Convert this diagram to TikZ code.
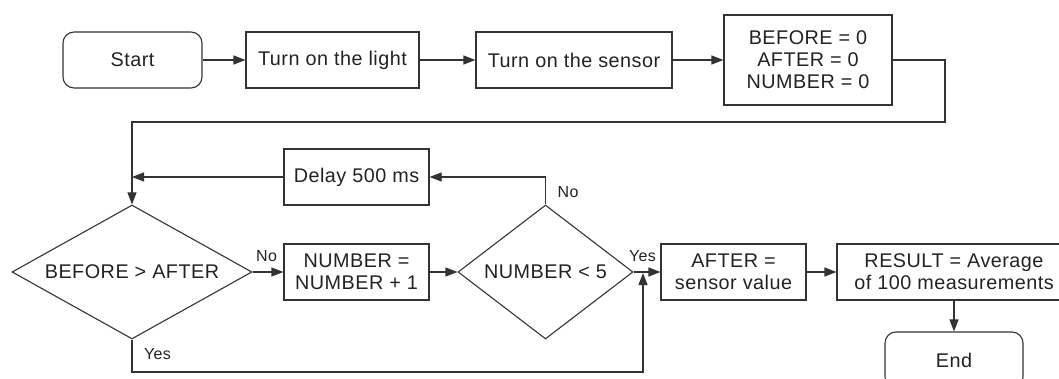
\documentclass[tikz,border=0pt]{standalone}
\usepackage{fontspec}
\setmainfont{Liberation Sans}[LetterSpace=2.5]
\usetikzlibrary{shapes.geometric,arrows.meta}
\definecolor{ink}{HTML}{222222}
\definecolor{lin}{HTML}{333333}
\begin{document}
\begin{tikzpicture}[x=1pt,y=-1pt,
  every node/.style={text=ink},
  boxbase/.style={draw=lin,line width=1.1pt,inner sep=0pt,align=center,
    font=\fontsize{19.8}{22}\selectfont},
  procbox/.style={boxbase,rectangle,minimum height=56pt},
  termbox/.style={boxbase,rectangle,rounded corners=11pt,minimum height=56pt},
  decbox/.style={boxbase,diamond,minimum height=134pt,inner sep=0pt},
  arr/.style={draw=lin,line width=1.1pt,-{Triangle[length=12pt,width=9pt]}},
  lbl/.style={font=\fontsize{16}{18}\selectfont,inner sep=0pt}]
\useasboundingbox (0,0) rectangle (1059,379);
\clip (0,0) rectangle (1059,379);

\node[termbox,minimum width=139pt] (start) at (132.5,60) {Start};
\node[procbox,minimum width=173pt] (light) at (332.5,60) {Turn on the light};
\node[procbox,minimum width=196pt] (sensor) at (574,60) {Turn on the sensor};
\node[procbox,minimum width=168pt,minimum height=90pt] (init) at (808,60) {BEFORE = 0\\AFTER = 0\\NUMBER = 0};

\node[decbox,minimum width=240pt,shape aspect=1.79] (d1) at (132,272) {BEFORE > AFTER};
\node[procbox,minimum width=145pt] (delay) at (356.5,177) {Delay 500 ms};
\node[procbox,minimum width=145pt] (inc) at (356.5,272) {NUMBER =\\NUMBER + 1};
\node[decbox,minimum width=175pt,shape aspect=1.31] (d2) at (545.5,272) {NUMBER < 5};
\node[procbox,minimum width=145pt] (after) at (733.5,272) {AFTER =\\sensor value};
\node[procbox,minimum width=234pt] (result) at (954,272) {RESULT = Average\\of 100 measurements};
\node[termbox,minimum width=138pt] (end) at (954,360) {End};

\coordinate (r1) at (945,122);
\coordinate (l1) at (132,122);
\coordinate (j) at (643,273);
\coordinate (yb) at (132,372);

\draw[arr] (start) -- (light);
\draw[arr] (light) -- (sensor);
\draw[arr] (sensor) -- (init);
\draw[arr] (init.east) -| (r1) -- (l1) -- (d1.north);
\draw[arr] (d2.north) |- (delay.east);
\draw[arr] (delay.west) -- (delay.west -| d1.north);
\draw[arr] (d1.east) -- (inc.west);
\draw[arr] (inc.east) -- (d2.west);
\draw[arr] (d2.east) -- (after.west);
\draw[arr] (d1.south) -- (yb) -| (j);
\draw[arr] (after) -- (result);
\draw[arr] (result) -- (end);

\node[lbl] (no1) at (266.5,256) {No};
\node[lbl] (no2) at (568,192) {No};
\node[lbl] (yes2) at (642.5,256) {Yes};
\node[lbl] (yes1) at (157.5,354) {Yes};
\end{tikzpicture}
\end{document}
